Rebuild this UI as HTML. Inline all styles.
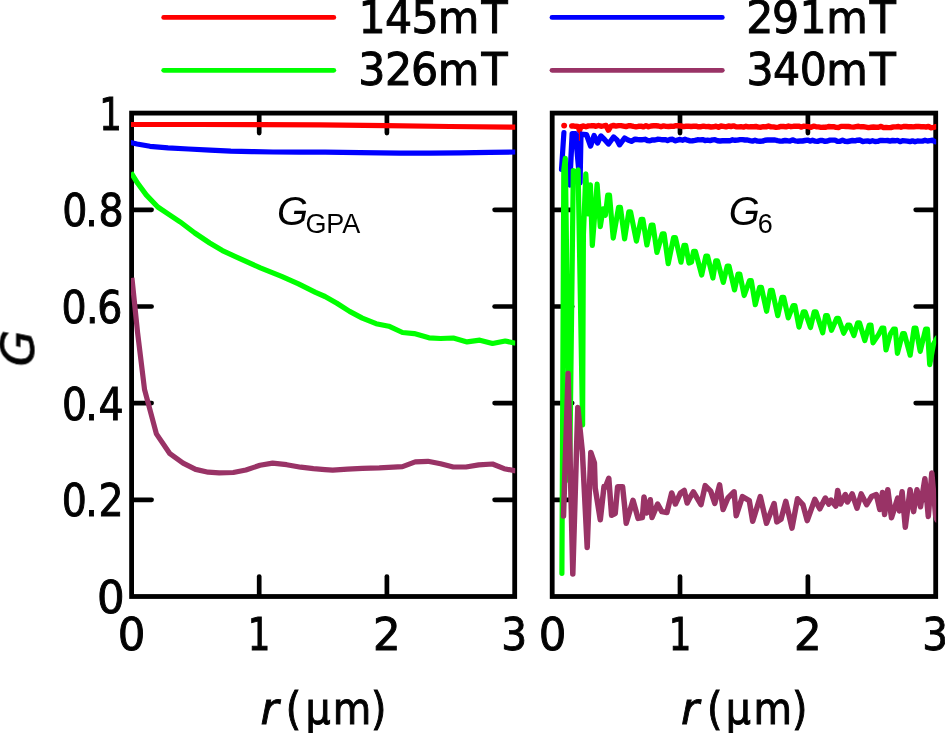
<!DOCTYPE html>
<html lang="en"><head><meta charset="utf-8"><title>G(r) correlation functions</title>
<style>html,body{margin:0;padding:0;background:#fff;}svg{display:block;}text{font-family:"DejaVu Sans Condensed","DejaVu Sans","Liberation Sans",sans-serif;fill:#000;}.ar{font-family:"Liberation Sans",sans-serif;}</style></head><body>
<svg width="945" height="733" viewBox="0 0 945 733">
<rect x="0" y="0" width="945" height="733" fill="#fff"/>
<defs><clipPath id="cl"><rect x="131" y="100" width="384.2" height="510"/></clipPath><clipPath id="cr"><rect x="551.6" y="100" width="384.6" height="510"/></clipPath></defs>
<rect x="131.6" y="113.1" width="383.1" height="483.4" fill="none" stroke="#000" stroke-width="4.8" stroke-linejoin="miter"/>
<line x1="259.2" y1="114.1" x2="259.2" y2="133.1" stroke="#000" stroke-width="4.7" stroke-linecap="round"/>
<line x1="259.2" y1="595.5" x2="259.2" y2="576.5" stroke="#000" stroke-width="4.7" stroke-linecap="round"/>
<line x1="386.9" y1="114.1" x2="386.9" y2="133.1" stroke="#000" stroke-width="4.7" stroke-linecap="round"/>
<line x1="386.9" y1="595.5" x2="386.9" y2="576.5" stroke="#000" stroke-width="4.7" stroke-linecap="round"/>
<line x1="132.6" y1="209.8" x2="151.6" y2="209.8" stroke="#000" stroke-width="4.7" stroke-linecap="round"/>
<line x1="513.6" y1="209.8" x2="494.6" y2="209.8" stroke="#000" stroke-width="4.7" stroke-linecap="round"/>
<line x1="132.6" y1="306.5" x2="151.6" y2="306.5" stroke="#000" stroke-width="4.7" stroke-linecap="round"/>
<line x1="513.6" y1="306.5" x2="494.6" y2="306.5" stroke="#000" stroke-width="4.7" stroke-linecap="round"/>
<line x1="132.6" y1="403.1" x2="151.6" y2="403.1" stroke="#000" stroke-width="4.7" stroke-linecap="round"/>
<line x1="513.6" y1="403.1" x2="494.6" y2="403.1" stroke="#000" stroke-width="4.7" stroke-linecap="round"/>
<line x1="132.6" y1="499.8" x2="151.6" y2="499.8" stroke="#000" stroke-width="4.7" stroke-linecap="round"/>
<line x1="513.6" y1="499.8" x2="494.6" y2="499.8" stroke="#000" stroke-width="4.7" stroke-linecap="round"/>
<rect x="552.2" y="113.1" width="383.5" height="483.4" fill="none" stroke="#000" stroke-width="4.8" stroke-linejoin="miter"/>
<line x1="680.0" y1="114.1" x2="680.0" y2="133.1" stroke="#000" stroke-width="4.7" stroke-linecap="round"/>
<line x1="680.0" y1="595.5" x2="680.0" y2="576.5" stroke="#000" stroke-width="4.7" stroke-linecap="round"/>
<line x1="807.9" y1="114.1" x2="807.9" y2="133.1" stroke="#000" stroke-width="4.7" stroke-linecap="round"/>
<line x1="807.9" y1="595.5" x2="807.9" y2="576.5" stroke="#000" stroke-width="4.7" stroke-linecap="round"/>
<line x1="553.2" y1="209.8" x2="572.2" y2="209.8" stroke="#000" stroke-width="4.7" stroke-linecap="round"/>
<line x1="934.7" y1="209.8" x2="915.7" y2="209.8" stroke="#000" stroke-width="4.7" stroke-linecap="round"/>
<line x1="553.2" y1="306.5" x2="572.2" y2="306.5" stroke="#000" stroke-width="4.7" stroke-linecap="round"/>
<line x1="934.7" y1="306.5" x2="915.7" y2="306.5" stroke="#000" stroke-width="4.7" stroke-linecap="round"/>
<line x1="553.2" y1="403.1" x2="572.2" y2="403.1" stroke="#000" stroke-width="4.7" stroke-linecap="round"/>
<line x1="934.7" y1="403.1" x2="915.7" y2="403.1" stroke="#000" stroke-width="4.7" stroke-linecap="round"/>
<line x1="553.2" y1="499.8" x2="572.2" y2="499.8" stroke="#000" stroke-width="4.7" stroke-linecap="round"/>
<line x1="934.7" y1="499.8" x2="915.7" y2="499.8" stroke="#000" stroke-width="4.7" stroke-linecap="round"/>
<g clip-path="url(#cl)">
<polyline points="130.5,124.5 200.0,124.5 260.0,124.6 320.0,124.9 386.0,125.7 450.0,126.5 516.0,127.2" fill="none" stroke="#ff0000" stroke-width="5.2" stroke-linejoin="round" stroke-linecap="butt" />
<polyline points="130.5,142.5 137.0,144.0 150.0,146.3 168.0,147.8 188.5,149.0 210.0,150.1 230.8,151.1 252.0,151.6 273.0,152.0 300.0,152.2 325.0,152.2 360.0,152.6 400.0,153.2 430.0,153.1 460.0,152.8 490.0,152.4 516.0,152.0" fill="none" stroke="#0000ff" stroke-width="5.2" stroke-linejoin="round" stroke-linecap="butt" />
<polyline points="131.0,172.6 131.8,173.8 137.7,183.3 146.2,194.9 157.8,207.0 167.3,213.3 180.0,221.8 194.8,233.0 209.7,243.0 222.4,250.6 239.3,258.4 260.4,267.9 281.6,276.4 298.5,283.8 315.5,292.3 325.0,296.5 336.9,303.3 349.6,311.4 362.3,318.1 376.1,323.7 388.8,326.2 402.5,332.5 414.2,333.6 429.0,337.8 440.6,338.5 453.3,338.0 467.1,341.9 479.8,340.2 492.5,343.5 505.2,341.0 516.0,343.3" fill="none" stroke="#00ff00" stroke-width="5.2" stroke-linejoin="round" stroke-linecap="butt" />
<polyline points="131.9,277.8 137.6,332.8 144.5,389.3 156.4,433.9 169.9,453.7 183.1,463.1 195.6,469.4 208.2,472.2 219.2,472.8 233.3,472.5 245.9,470.0 260.0,465.3 272.6,463.1 286.7,464.7 300.8,467.2 313.4,468.7 325.0,469.7 332.7,470.2 347.5,469.1 362.3,468.3 379.3,467.8 402.5,466.6 415.2,461.9 427.9,461.3 440.6,463.8 453.3,467.0 466.0,467.0 478.7,464.9 492.5,464.0 504.1,468.7 516.0,471.0" fill="none" stroke="#993366" stroke-width="5.2" stroke-linejoin="round" stroke-linecap="butt" />
</g>
<g clip-path="url(#cr)">
<polyline points="564.1,125.6 564.2,125.6" fill="none" stroke="#ff0000" stroke-width="5.8" stroke-linejoin="round" stroke-linecap="round" />
<polyline points="571.7,126.0 573.0,125.8 575.5,126.3 578.0,126.5 579.5,130.6 581.0,126.6 583.5,126.0 586.0,126.8 588.5,125.9 591.0,125.8 593.5,125.6 596.0,126.3 598.5,125.5 601.0,126.2 603.5,125.9 606.0,125.5 608.4,130.2 611.0,126.1 613.5,125.5 616.0,126.1 618.5,125.6 621.0,125.6 623.5,126.1 626.0,126.6 628.5,125.7 631.0,125.8 633.5,126.4 636.0,126.8 638.5,126.3 641.0,126.1 643.5,126.9 646.0,125.6 648.5,126.8 651.0,126.0 653.5,125.8 656.0,125.7 658.5,126.0 661.0,126.7 663.5,125.9 666.0,126.4 668.5,126.5 671.0,126.2 673.5,126.4 676.0,125.7 678.5,125.7 681.0,126.0 683.5,126.6 686.0,126.3 688.5,126.1 691.0,126.5 693.5,126.3 696.0,126.1 698.5,126.8 701.0,126.7 703.5,126.1 706.0,126.6 708.5,126.5 711.0,127.0 713.5,126.8 716.0,126.2 718.5,127.2 721.0,126.0 723.5,126.4 726.0,126.9 728.5,126.0 731.0,126.5 733.5,125.9 736.0,126.8 738.5,126.9 741.0,126.7 743.5,127.1 746.0,126.3 748.5,126.9 751.0,126.7 753.5,126.7 756.0,126.5 758.5,127.1 761.0,127.2 763.5,126.6 766.0,126.9 768.5,126.0 771.0,126.9 773.5,126.9 776.0,127.4 778.5,127.1 781.0,126.4 783.5,126.5 786.0,126.9 788.5,126.0 791.0,126.7 793.5,126.3 796.0,126.2 798.5,126.1 801.0,127.1 803.5,126.2 806.0,126.4 808.5,126.6 811.0,127.3 813.5,126.2 816.0,126.7 818.5,126.9 821.0,127.4 823.5,127.3 826.0,127.3 828.5,126.5 831.0,126.7 833.5,126.7 836.0,127.4 838.5,127.5 841.0,126.4 843.5,126.4 846.0,126.5 848.5,126.5 851.0,126.9 853.5,127.1 856.0,126.6 858.5,126.3 861.0,126.8 863.5,126.8 866.0,127.1 868.5,127.6 871.0,127.3 873.5,127.0 876.0,127.2 878.5,127.3 881.0,126.4 883.5,127.6 886.0,127.4 888.5,127.6 891.0,127.5 893.5,126.9 896.0,126.9 898.5,126.5 901.0,127.3 903.5,126.5 906.0,126.5 908.5,126.7 911.0,126.6 913.5,126.9 916.0,126.5 918.5,126.4 921.0,126.7 923.5,126.6 926.0,127.0 928.5,126.5 931.0,127.7 933.5,127.4 936.0,126.7" fill="none" stroke="#ff0000" stroke-width="5.4" stroke-linejoin="round" stroke-linecap="round" />
<polyline points="561.5,169.5 563.9,132.6" fill="none" stroke="#0000ff" stroke-width="5.2" stroke-linejoin="round" stroke-linecap="round" />
<polyline points="569.6,185.0 572.2,133.8 575.5,133.8 580.0,183.0 580.9,134.3 586.5,134.6 590.6,146.0 594.1,135.5 597.5,143.0 600.9,136.0 604.5,139.5 608.5,144.0 613.6,137.0 617.0,140.0 619.5,144.8 624.6,138.0 628.0,140.0 631.4,141.3 635.0,139.2 637.5,139.5 640.0,139.7 642.5,139.7 645.0,139.3 647.5,140.5 650.0,140.7 652.5,139.9 655.0,140.0 657.5,139.3 660.0,139.4 662.5,139.8 665.0,139.6 667.5,140.6 670.0,139.5 672.5,139.3 675.0,140.8 677.5,140.1 680.0,139.5 682.5,140.2 685.0,139.3 687.5,140.2 690.0,140.9 692.5,140.7 695.0,140.4 697.5,139.8 700.0,139.9 702.5,139.6 705.0,140.6 707.5,140.2 710.0,140.6 712.5,139.9 715.0,139.8 717.5,140.7 720.0,141.0 722.5,140.8 725.0,140.7 727.5,140.8 730.0,140.7 732.5,139.8 735.0,140.3 737.5,140.1 740.0,139.6 742.5,139.6 745.0,140.0 747.5,140.0 750.0,140.7 752.5,141.1 755.0,140.3 757.5,141.1 760.0,141.2 762.5,141.1 765.0,140.2 767.5,140.0 770.0,140.0 772.5,140.0 775.0,140.0 777.5,140.7 780.0,141.1 782.5,141.0 785.0,140.5 787.5,140.8 790.0,141.0 792.5,139.9 795.0,140.8 797.5,141.2 800.0,141.0 802.5,141.0 805.0,140.5 807.5,140.1 810.0,141.1 812.5,140.3 815.0,141.1 817.5,141.4 820.0,140.5 822.5,140.5 825.0,141.4 827.5,141.0 830.0,140.1 832.5,140.1 835.0,140.1 837.5,141.4 840.0,141.2 842.5,140.2 845.0,141.3 847.5,141.5 850.0,141.0 852.5,140.5 855.0,140.9 857.5,140.2 860.0,140.0 862.5,141.6 865.0,141.1 867.5,140.9 870.0,141.5 872.5,140.7 875.0,141.5 877.5,141.4 880.0,140.4 882.5,140.5 885.0,140.6 887.5,140.5 890.0,141.1 892.5,140.5 895.0,140.8 897.5,140.4 900.0,141.6 902.5,140.7 905.0,140.9 907.5,141.1 910.0,141.6 912.5,140.9 915.0,141.7 917.5,141.0 920.0,141.1 922.5,141.1 925.0,140.3 927.5,141.0 930.0,140.6 932.5,140.3 935.0,141.6" fill="none" stroke="#0000ff" stroke-width="5.4" stroke-linejoin="round" stroke-linecap="round" />
<line x1="579.4" y1="128" x2="579.4" y2="140.8" stroke="#ff0000" stroke-width="1"/>
<polyline points="561.9,573.3 563.8,170.0 565.3,158.3 569.6,481.0 573.3,170.5 575.5,172.2 578.1,170.0 582.6,424.8 583.4,235.0 585.8,173.9 588.0,214.0 590.4,184.8 592.3,245.5 597.1,184.2 600.3,226.7 603.1,208.8 605.4,215.3 607.7,195.2 609.5,195.2 613.2,238.1 618.6,207.3 620.4,207.3 624.6,238.9 628.8,211.9 630.6,211.9 636.4,241.1 641.1,219.3 642.9,219.3 646.9,245.0 651.2,225.0 653.0,225.0 656.9,252.5 662.3,233.8 664.1,233.8 668.2,263.6 673.6,237.5 675.4,237.5 681.0,262.2 683.9,245.4 685.7,245.4 689.0,263.0 691.5,262.0 693.6,251.3 695.4,251.3 701.7,275.0 705.8,256.2 707.6,256.2 712.9,278.0 715.7,260.9 717.5,260.9 723.3,282.4 727.2,266.2 729.0,266.2 734.5,289.9 738.0,274.0 739.8,274.0 744.2,295.5 749.5,280.6 751.3,280.6 755.3,304.7 759.6,287.4 761.4,287.4 766.6,311.3 770.4,290.3 772.2,290.3 777.8,315.7 781.9,297.4 783.7,297.4 788.3,317.9 793.1,305.6 794.9,305.6 799.0,327.1 803.3,311.8 805.1,311.8 810.5,327.5 814.2,311.8 816.0,311.8 822.7,332.8 825.6,315.6 827.4,315.6 831.5,330.3 836.7,318.4 838.5,318.4 843.7,333.2 847.8,325.1 849.6,325.1 853.9,335.5 857.7,322.8 859.5,322.8 864.8,340.5 869.2,325.1 871.0,325.1 873.0,342.8 878.7,334.4 882.0,328.0 883.8,328.0 886.0,350.0 890.2,334.4 893.5,329.0 895.3,329.0 897.4,353.3 902.6,333.7 904.4,333.7 910.2,355.2 914.1,328.0 915.9,328.0 920.2,351.4 925.6,329.0 927.4,329.0 929.7,364.7 933.5,344.0 937.0,338.0" fill="none" stroke="#00ff00" stroke-width="5.2" stroke-linejoin="round" stroke-linecap="round" />
<polyline points="563.5,516.0 568.1,373.5 572.8,573.9 577.8,407.4 582.4,452.0 587.2,547.4 590.8,452.5 594.4,463.0 595.2,488.0 600.3,519.8 604.0,486.5 605.3,487.3 608.8,478.3 611.6,515.2 615.2,513.5 617.6,486.8 622.6,486.8 624.6,506.0 626.2,523.2 633.0,500.3 638.1,518.4 642.4,517.5 644.0,497.0 646.6,513.0 650.3,499.7 652.0,517.5 657.6,504.0 661.8,511.6 666.9,512.5 671.7,493.0 675.4,504.0 680.5,493.0 684.2,490.4 687.2,503.0 690.0,497.5 693.4,491.8 701.0,504.7 705.2,485.6 710.7,491.1 714.8,503.3 719.6,484.9 723.1,509.5 727.9,498.0 734.1,491.8 736.2,515.7 742.4,496.6 749.3,500.7 752.7,521.3 760.3,496.6 766.5,523.3 774.1,503.5 776.8,521.9 781.0,519.2 785.8,501.4 792.0,528.1 797.5,498.7 803.0,504.9 807.2,520.6 814.8,499.4 819.8,508.8 825.3,498.0 828.8,504.0 830.9,500.0 835.7,506.1 837.7,490.4 840.5,504.0 845.3,494.5 847.4,502.0 852.2,493.9 857.0,508.2 861.2,493.9 866.7,504.7 871.5,496.6 876.3,494.5 879.8,509.5 882.5,492.5 884.6,514.4 887.8,489.7 891.5,517.8 897.7,498.0 899.4,510.9 902.1,491.8 905.3,527.2 910.1,489.7 913.6,511.6 917.0,489.7 920.5,506.8 924.9,478.7 928.3,516.4 931.8,472.9 935.6,515.0 937.0,520.0" fill="none" stroke="#993366" stroke-width="5.5" stroke-linejoin="round" stroke-linecap="round" />
</g>
<line x1="163.7" y1="17.4" x2="333.8" y2="17.4" stroke="#ff0000" stroke-width="4.8" stroke-linecap="round"/>
<line x1="163.7" y1="70.3" x2="333.8" y2="70.3" stroke="#00ff00" stroke-width="4.8" stroke-linecap="round"/>
<line x1="552" y1="17.4" x2="722.3" y2="17.4" stroke="#0000ff" stroke-width="4.8" stroke-linecap="round"/>
<line x1="552" y1="70.3" x2="722.3" y2="70.3" stroke="#993366" stroke-width="4.8" stroke-linecap="round"/>
<g opacity="0.996">
<text transform="translate(0,32.50) scale(1.080,1)" x="331.94 356.53 381.04 405.37 445.83" font-size="43.90" stroke="#000" stroke-width="0.90">145mT</text>
<text transform="translate(0,84.70) scale(1.080,1)" x="331.74 356.48 380.60 405.37 445.83" font-size="43.90" stroke="#000" stroke-width="0.90">326mT</text>
<text transform="translate(0,32.50) scale(1.080,1)" x="690.90 714.75 740.28 765.12 805.28" font-size="43.90" stroke="#000" stroke-width="0.90">291mT</text>
<text transform="translate(0,84.70) scale(1.080,1)" x="691.20 715.79 740.58 765.12 805.28" font-size="43.90" stroke="#000" stroke-width="0.90">340mT</text>
<text transform="translate(0,129.60) scale(0.900,1)" x="110.22" font-size="43.90" stroke="#000" stroke-width="0.90">1</text>
<text transform="translate(0,226.30) scale(1.000,1)" x="62.35 85.37 98.45" font-size="43.90" stroke="#000" stroke-width="0.90">0.8</text>
<text transform="translate(0,323.00) scale(1.000,1)" x="61.55 85.90 97.30" font-size="43.90" stroke="#000" stroke-width="0.90">0.6</text>
<text transform="translate(0,419.60) scale(1.000,1)" x="62.00 85.28 98.40" font-size="43.90" stroke="#000" stroke-width="0.90">0.4</text>
<text transform="translate(0,516.30) scale(1.000,1)" x="61.83 85.37 98.55" font-size="43.90" stroke="#000" stroke-width="0.90">0.2</text>
<text transform="translate(0,613.00) scale(1.100,1)" x="88.14" font-size="43.90" stroke="#000" stroke-width="0.90">0</text>
<text transform="translate(0,649.50) scale(1.100,1)" x="107.16" font-size="43.90" stroke="#000" stroke-width="0.90">0</text>
<text transform="translate(0,649.50) scale(1.100,1)" x="489.89" font-size="43.90" stroke="#000" stroke-width="0.90">0</text>
<text transform="translate(0,649.50) scale(0.900,1)" x="275.36" font-size="43.90" stroke="#000" stroke-width="0.90">1</text>
<text transform="translate(0,649.50) scale(0.900,1)" x="743.14" font-size="43.90" stroke="#000" stroke-width="0.90">1</text>
<text transform="translate(0,649.50) scale(1.100,1)" x="339.20" font-size="43.90" stroke="#000" stroke-width="0.90">2</text>
<text transform="translate(0,649.50) scale(1.100,1)" x="721.93" font-size="43.90" stroke="#000" stroke-width="0.90">2</text>
<text transform="translate(0,649.50) scale(1.030,1)" x="486.63" font-size="43.90" stroke="#000" stroke-width="0.90">3</text>
<text transform="translate(0,649.50) scale(1.030,1)" x="895.44" font-size="43.90" stroke="#000" stroke-width="0.90">3</text>
<text transform="translate(0,723.60) scale(1.000,1)" x="260.40 268.40 285.85 305.50 332.67 370.92" font-size="43.90" stroke="#000" stroke-width="0.90"><tspan font-style="italic" font-family="DejaVu Sans,sans-serif">r</tspan> (µm)</text>
<text transform="translate(0,723.60) scale(1.000,1)" x="681.00 689.00 706.90 725.87 753.38 791.90" font-size="43.90" stroke="#000" stroke-width="0.90"><tspan font-style="italic" font-family="DejaVu Sans,sans-serif">r</tspan> (µm)</text>
<text class="ar" transform="translate(0,224.60) scale(1.000,1)" x="276.98" font-size="40.00"><tspan font-style="italic">G</tspan></text>
<text class="ar" transform="translate(0,232.60) scale(1.000,1)" x="305.60 326.30 342.20" font-size="27.00">GPA</text>
<text class="ar" transform="translate(0,224.60) scale(1.000,1)" x="728.87" font-size="40.00"><tspan font-style="italic">G</tspan></text>
<text class="ar" transform="translate(0,232.80) scale(1.000,1)" x="757.85" font-size="27.00">6</text>
<text transform="translate(33.60,366.30) rotate(-90) scale(1.070,1)" x="0.00" font-size="43.90" stroke="#000" stroke-width="0.90"><tspan font-style="italic" font-family="DejaVu Sans,sans-serif">G</tspan></text>
</g>
</svg></body></html>
